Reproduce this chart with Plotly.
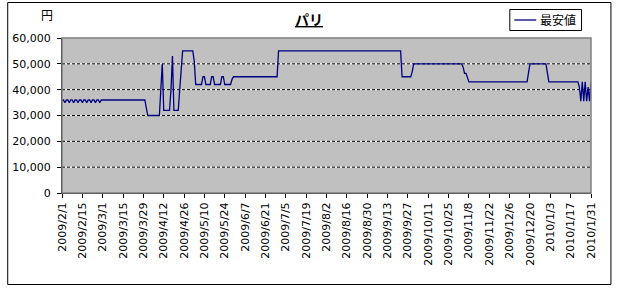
import pandas as pd
import plotly.graph_objects as go

# Price change dates (price holds until the next change) and the lowest fare (yen)
change_dates = [
    "2009-02-01", "2009-02-03", "2009-02-04", "2009-02-06", "2009-02-07", "2009-02-09",
    "2009-02-10", "2009-02-12", "2009-02-13", "2009-02-15", "2009-02-16", "2009-02-18",
    "2009-02-19", "2009-02-21", "2009-02-22", "2009-02-24", "2009-02-25", "2009-02-27",
    "2009-02-28", "2009-03-31", "2009-04-01", "2009-04-10", "2009-04-11", "2009-04-12",
    "2009-04-17", "2009-04-18", "2009-04-19", "2009-04-23", "2009-04-24", "2009-04-25",
    "2009-05-03", "2009-05-04", "2009-05-09", "2009-05-11", "2009-05-15", "2009-05-17",
    "2009-05-22", "2009-05-24", "2009-05-29", "2009-05-30", "2009-06-30", "2009-09-23",
    "2009-09-30", "2009-10-01", "2009-11-04", "2009-11-05", "2009-11-07", "2009-11-08",
    "2009-12-19", "2009-12-20", "2010-01-01", "2010-01-02", "2010-01-23", "2010-01-24",
    "2010-01-25", "2010-01-26", "2010-01-27", "2010-01-28", "2010-01-29", "2010-01-30",
    "2010-01-31",
]
min_price = [
    36000, 35000, 36000, 35000, 36000, 35000,
    36000, 35000, 36000, 35000, 36000, 35000,
    36000, 35000, 36000, 35000, 36000, 35000,
    36000, 33000, 30000, 40000, 50000, 32000,
    40000, 53000, 32000, 40000, 49000, 55000,
    51000, 42000, 45000, 42000, 45000, 42000,
    45000, 42000, 44000, 45000, 55000, 45000,
    47000, 50000, 48700, 46300, 44200, 43000,
    46500, 50000, 46500, 43000, 41000, 35500,
    43000, 35500, 43000, 35500, 41000, 35500,
    43000,
]

x_start, x_end = "2009-02-01", "2010-01-31"
x_ticks = pd.date_range(x_start, x_end, freq="14D")
y_ticks = [0, 10000, 20000, 30000, 40000, 50000, 60000]

series_name = "最安値"
title_text = "パリ"
unit_text = "円"

# daily series: each day's price is the last recorded change
s = pd.Series(min_price, index=pd.to_datetime(change_dates))
daily = s.reindex(pd.date_range(x_start, x_end, freq="D")).ffill()

LAT = "DejaVu Sans, Arial, sans-serif"
JP = "Noto Sans CJK JP, sans-serif"
LINE_COLOR = "#000080"

fig = go.Figure()
fig.add_trace(go.Scatter(
    x=daily.index, y=daily.values, mode="lines", name=series_name,
    line=dict(color=LINE_COLOR, width=1.3), showlegend=False,
))

W, H = 617, 290
L, R, T, B = 60, 26, 38, 97
pw, ph = W - L - R, H - T - B
def px_x(p):
    return (p - L) / pw
def px_y(p):
    return (H - B - p) / ph

shapes = []
# gridlines: white base + black dashes (Excel look)
for v in y_ticks[1:-1]:
    shapes.append(dict(type="line", xref="paper", x0=0, x1=1, yref="y", y0=v, y1=v,
                       line=dict(color="white", width=1), layer="below"))
    shapes.append(dict(type="line", xref="paper", x0=0, x1=1, yref="y", y0=v, y1=v,
                       line=dict(color="black", width=1, dash="3px,2px"), layer="below"))
# plot-area border (grey)
shapes.append(dict(type="rect", xref="paper", yref="paper", x0=0, x1=1, y0=0, y1=1,
                   line=dict(color="#808080", width=1.5), layer="above"))
# outer chart border
shapes.append(dict(type="rect", xref="paper", yref="paper",
                   x0=px_x(5.5), x1=px_x(611), y0=px_y(284.5), y1=px_y(2.5),
                   line=dict(color="black", width=1), layer="above"))
# legend box and sample line
shapes.append(dict(type="rect", xref="paper", yref="paper",
                   x0=px_x(509.5), x1=px_x(581.5), y0=px_y(30.5), y1=px_y(9.5),
                   line=dict(color="black", width=1), fillcolor="white", layer="above"))
shapes.append(dict(type="line", xref="paper", yref="paper",
                   x0=px_x(514), x1=px_x(536), y0=px_y(20), y1=px_y(20),
                   line=dict(color=LINE_COLOR, width=1.3), layer="above"))

fig.update_layout(
    width=W, height=H,
    margin=dict(l=L, r=R, t=T, b=B, pad=0),
    paper_bgcolor="white", plot_bgcolor="#C0C0C0",
    showlegend=False,
    shapes=shapes,
    annotations=[
        dict(text=title_text, xref="paper", yref="paper", x=px_x(308), y=px_y(19),
             xanchor="center", yanchor="middle", showarrow=False,
             font=dict(family=JP, size=14, color="black", weight="bold", lineposition="under")),
        dict(text=unit_text, xref="paper", yref="paper", x=px_x(45), y=px_y(15),
             xanchor="center", yanchor="middle", showarrow=False,
             font=dict(family=JP, size=12, color="black")),
        dict(text=series_name, xref="paper", yref="paper", x=px_x(538), y=px_y(20),
             xanchor="left", yanchor="middle", showarrow=False,
             font=dict(family=JP, size=12, color="black")),
    ],
)

fig.update_xaxes(
    type="date", range=[pd.Timestamp(x_start), pd.Timestamp(x_end)],
    tickvals=x_ticks, tickformat="%Y/%-m/%-d", tickangle=-90,
    ticks="outside", ticklen=4, tickcolor="black",
    showline=True, linecolor="black", linewidth=1,
    showgrid=False, zeroline=False,
    tickfont=dict(family=LAT, size=11, color="black"),
)
fig.update_yaxes(
    range=[0, 60000], tickvals=y_ticks, tickformat=",d",
    ticks="outside", ticklen=4, tickcolor="black",
    showline=True, linecolor="black", linewidth=1,
    showgrid=False, zeroline=False, ticklabelstandoff=4,
    tickfont=dict(family=LAT, size=11, color="black"),
)

fig.write_html("out.html")
